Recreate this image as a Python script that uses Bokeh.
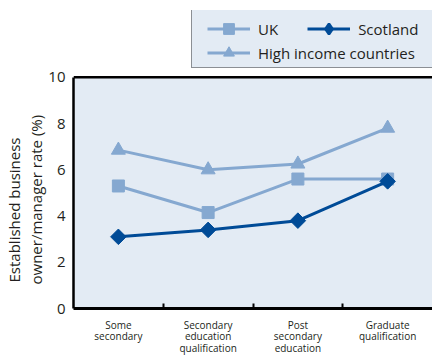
from bokeh.plotting import figure
from bokeh.models import Range1d, FixedTicker, Legend, LegendItem, BoxAnnotation, Span, Title
from bokeh.embed import file_html
from bokeh.resources import INLINE
import math

# Data
categories = ["Some\nsecondary", "Secondary\neducation\nqualification",
              "Post\nsecondary\neducation", "Graduate\nqualification"]
uk = [5.3, 4.15, 5.6, 5.6]
scotland = [3.1, 3.4, 3.8, 5.5]
high_income = [6.85, 6.0, 6.25, 7.8]
y_ticks = [0, 2, 4, 6, 8, 10]
y_title = ["Established business", "owner/manager rate (%)"]

FONT = "Open Sans"
TEXT = "#231f20"
LIGHT = "#85a8d0"
DARK = "#004b97"
BG = "#e3ebf4"

xs = [i + 0.5 for i in range(len(categories))]
y_top = y_ticks[-1]

# The frame reaches up above the value axis so the legend can sit in the headroom.
p = figure(width=432, height=358, output_backend="svg", toolbar_location=None,
           x_range=Range1d(0, len(categories)), y_range=Range1d(0, 12.89),
           min_border_left=73, min_border_right=0, min_border_top=10,
           min_border_bottom=49)
p.background_fill_color = "white"
p.border_fill_color = "white"
p.outline_line_color = None

# Shaded plotting area from 0 to 10 with its top rule
p.add_layout(BoxAnnotation(bottom=0, top=y_top, fill_color=BG, fill_alpha=1,
                           line_color=None, level="underlay"))
p.add_layout(Span(location=y_top, dimension="width", line_color="black", line_width=2.5))

# Axes
p.yaxis.ticker = FixedTicker(ticks=y_ticks)
p.yaxis.bounds = (0, y_top)
p.yaxis.major_tick_line_color = None
p.yaxis.major_tick_out = 0
p.yaxis.major_tick_in = 0
p.yaxis.minor_tick_line_color = None
p.yaxis.axis_line_width = 2.5
p.yaxis.axis_line_color = "black"
p.yaxis.major_label_text_font = FONT
p.yaxis.major_label_text_font_size = "15px"
p.yaxis.major_label_text_color = TEXT
p.yaxis.major_label_standoff = 8

# Value-axis title, two rotated lines next to the 0-10 span (inner line added first)
for text, off in zip(reversed(y_title), (24, 26)):
    p.add_layout(Title(text=text, align="left", offset=off, standoff=0,
                       text_font=FONT, text_font_size="15px",
                       text_font_style="normal", text_color=TEXT), "left")

p.xaxis.ticker = FixedTicker(ticks=xs, minor_ticks=list(range(1, len(categories))))
p.xaxis.major_label_overrides = {x: c for x, c in zip(xs, categories)}
p.xaxis.major_tick_line_color = None
p.xaxis.major_tick_out = 0
p.xaxis.major_tick_in = 0
p.xaxis.minor_tick_in = 5
p.xaxis.minor_tick_out = 0
p.xaxis.minor_tick_line_width = 2
p.xaxis.minor_tick_line_color = "black"
p.xaxis.axis_line_width = 3
p.xaxis.axis_line_color = "black"
p.xaxis.major_label_text_font = FONT
p.xaxis.major_label_text_font_size = "10px"
p.xaxis.major_label_text_color = TEXT
p.xaxis.major_label_standoff = 9
p.xaxis.major_label_text_line_height = 0.85

p.xgrid.grid_line_color = None
p.ygrid.ticker = FixedTicker(ticks=y_ticks[1:-1])
p.ygrid.grid_line_color = "#3a3a3a"
p.ygrid.grid_line_width = 1

# Series
l_hi = p.line(xs, high_income, line_color=LIGHT, line_width=3)
m_hi = p.scatter(xs, high_income, marker="triangle", size=14, fill_color=LIGHT, line_color=LIGHT)
l_uk = p.line(xs, uk, line_color=LIGHT, line_width=3)
m_uk = p.scatter(xs, uk, marker="square", size=12, fill_color=LIGHT, line_color=LIGHT)
l_sc = p.line(xs, scotland, line_color=DARK, line_width=3)
# diamond used for the Scotland legend swatch; sits under the rotated squares
k_sc = p.scatter(xs, scotland, marker="diamond", size=10, fill_color=DARK,
                 line_color=DARK, line_width=2.5)
m_sc = p.scatter(xs, scotland, marker="square", angle=math.pi / 4, size=11,
                 fill_color=DARK, line_color=DARK)

# Legend frame (an empty item sized to form the box)
dummy = p.line([], [], line_alpha=0)
box = Legend(items=[LegendItem(label=" ", renderers=[dummy])],
             location=(118, 240), padding=0, margin=0, spacing=0,
             glyph_width=1, glyph_height=57, label_height=57, label_width=250,
             label_standoff=0, background_fill_color=BG, background_fill_alpha=1,
             border_line_color="#333333", border_line_width=1.2)
p.add_layout(box, "center")

common = dict(padding=0, margin=0, glyph_width=43, glyph_height=27, label_height=27,
              label_standoff=8, background_fill_alpha=0, border_line_color=None,
              label_text_font=FONT, label_text_font_size="15px", label_text_color=TEXT)
leg_a = Legend(items=[LegendItem(label="UK", renderers=[l_uk, m_uk]),
                      LegendItem(label="Scotland", renderers=[l_sc, k_sc])],
               orientation="horizontal", spacing=29, location=(134, 266), **common)
leg_b = Legend(items=[LegendItem(label="High income countries", renderers=[l_hi, m_hi])],
               location=(134, 242), **common)
p.add_layout(leg_a, "center")
p.add_layout(leg_b, "center")

open("out.html", "w").write(file_html(p, INLINE))
